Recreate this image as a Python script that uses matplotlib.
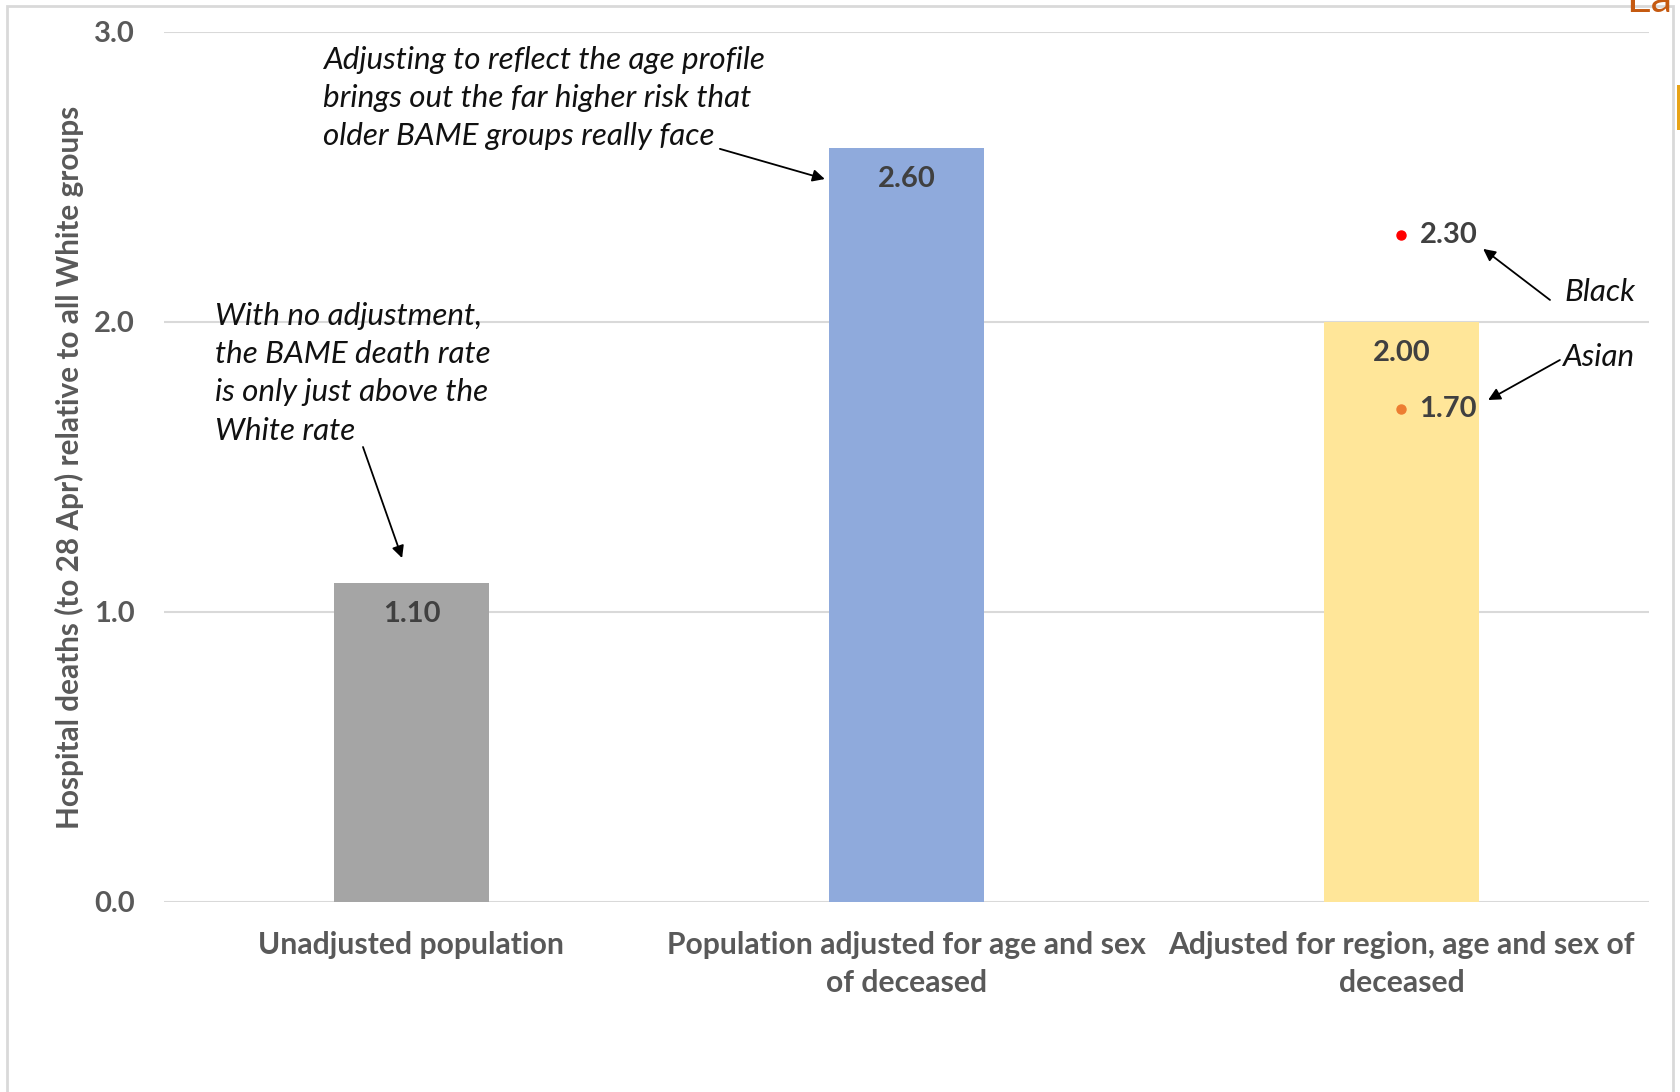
import matplotlib
matplotlib.use("Agg")
import matplotlib.pyplot as plt
from matplotlib.patches import Rectangle, FancyBboxPatch

# ---- data ----
categories = ["Unadjusted population",
              "Population adjusted for age and sex\nof deceased",
              "Adjusted for region, age and sex of\ndeceased"]
bar_values = [1.10, 2.60, 2.00]
bar_colors = ["#A5A5A5", "#8FAADC", "#FFE699"]
point_groups = ["Black", "Asian"]
point_values = [2.30, 1.70]
point_colors = ["#FF0000", "#ED7D31"]
yticks = [0.0, 1.0, 2.0, 3.0]
ylabel = "Hospital deaths (to 28 Apr) relative to all White groups"

W, H = 1681, 1092
fig = plt.figure(figsize=(W / 100, H / 100), dpi=100)
fig.patch.set_facecolor("white")

FONT = "Lato"
GRAY = "#595959"
DARK = "#404040"

# axes placement (pixel measurements from reference)
left, right, top, bottom = 164, 1649, 32, 902
ax = fig.add_axes([left / W, 1 - bottom / H, (right - left) / W, (bottom - top) / H])

x = list(range(len(categories)))
ax.bar(x, bar_values, width=0.313, color=bar_colors, zorder=2)
ax.set_xlim(-0.5, 2.5)
ax.set_ylim(0, 3.0)

ax.set_yticks(yticks)
ax.set_yticklabels([f"{t:.1f}" for t in yticks], fontfamily=FONT, fontweight="bold",
                   fontsize=21, color=GRAY)
ax.set_xticks(x)
ax.set_xticklabels(categories, fontfamily=FONT, fontweight="bold", fontsize=21.7,
                   color=GRAY, linespacing=1.42)
ax.tick_params(axis="both", length=0)
ax.tick_params(axis="y", pad=21)
ax.tick_params(axis="x", pad=21)

for s in ax.spines.values():
    s.set_visible(False)
ax.yaxis.grid(True, color="#D9D9D9", linewidth=1.5, zorder=0)
ax.set_axisbelow(True)

ax.set_ylabel(ylabel, fontfamily=FONT, fontweight="bold", fontsize=21.4, color=GRAY)
ax.yaxis.set_label_coords(-0.054, 0.5)

# bar data labels
for xi, v in zip(x, bar_values):
    ax.annotate(f"{v:.2f}", xy=(xi, v), xytext=(0, -31), textcoords="offset pixels",
                ha="center", va="center", fontfamily=FONT, fontweight="bold",
                fontsize=21, color=DARK, zorder=4)

# points for Black / Asian on third category
for v, c in zip(point_values, point_colors):
    ax.plot([2], [v], marker="o", markersize=6.5, color=c, linestyle="none", zorder=4)
    ax.annotate(f"{v:.2f}", xy=(2, v), xytext=(18, 0), textcoords="offset pixels",
                ha="left", va="center", fontfamily=FONT, fontweight="bold",
                fontsize=21, color=DARK, zorder=4)

ann_kw = dict(fontfamily=FONT, fontstyle="italic", fontsize=22.6, color="#111111")
arrow_kw = dict(arrowstyle="-|>", color="black", lw=1.3, mutation_scale=18,
                shrinkA=0, shrinkB=0)

# annotation 1
ax.text(-0.397, 1.824, "With no adjustment,\nthe BAME death rate\nis only just above the\nWhite rate",
        ha="left", va="center", linespacing=1.45, zorder=5, **ann_kw)
ax.annotate("", xy=(-0.019, 1.186), xytext=(-0.098, 1.569), arrowprops=arrow_kw)

# annotation 2
ax.text(-0.179, 2.772, "Adjusting to reflect the age profile\nbrings out the far higher risk that\nolder BAME groups really face",
        ha="left", va="center", linespacing=1.45, zorder=5, **ann_kw)
ax.annotate("", xy=(0.835, 2.493), xytext=(0.623, 2.597), arrowprops=arrow_kw)

# Black / Asian
ax.text(2.330, 2.103, point_groups[0], ha="left", va="center", **ann_kw)
ax.annotate("", xy=(2.165, 2.252), xytext=(2.300, 2.076), arrowprops=arrow_kw)
ax.text(2.324, 1.879, point_groups[1], ha="left", va="center", **ann_kw)
ax.annotate("", xy=(2.175, 1.731), xytext=(2.320, 1.869), arrowprops=arrow_kw)

# outer chart frame (screenshot border)
fig.patches.append(Rectangle((7 / W, -0.05), (1673 - 7) / W, 1.05 - 6 / H,
                             transform=fig.transFigure, fill=False,
                             edgecolor="#D9D9D9", linewidth=2, zorder=0))
# screenshot artefacts at top right
fig.text(1626 / W, 1 - 12 / H, "Ea", fontfamily=FONT, fontsize=31, color="#C55A11",
         ha="left", va="baseline")
fig.patches.append(FancyBboxPatch((1677 / W, 1 - 130 / H), 10 / W, 45 / H,
                                  boxstyle="round,pad=0", transform=fig.transFigure,
                                  facecolor="#E8A317", edgecolor="none"))

fig.savefig("out.png", dpi=100, facecolor="white")
